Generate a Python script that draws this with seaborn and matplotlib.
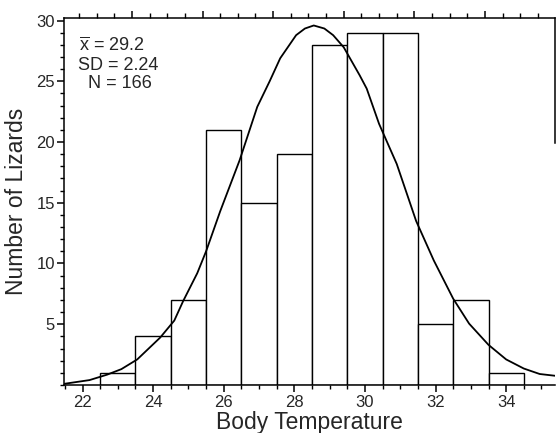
import numpy as np
import pandas as pd
import matplotlib
matplotlib.use("Agg")
import matplotlib.pyplot as plt
from matplotlib.ticker import FixedLocator, MultipleLocator
import seaborn as sns

# ---- data ----
bin_edges = [22.5, 23.5, 24.5, 25.5, 26.5, 27.5, 28.5, 29.5, 30.5, 31.5, 32.5, 33.5, 34.5]
bin_centers = [23, 24, 25, 26, 27, 28, 29, 30, 31, 32, 33, 34]
counts = [1, 4, 7, 21, 15, 19, 28, 29, 29, 5, 7, 1]

curve_x = [21.5, 22.2, 22.7, 23.1, 23.55, 24.2, 24.6, 24.85, 25.25, 25.5, 25.9, 26.45,
           26.95, 27.3, 27.6, 28.05, 28.3, 28.55, 28.85, 29.1, 29.4, 29.85, 30.05, 30.4,
           30.9, 31.45, 31.95, 32.5, 32.95, 33.5, 34.0, 34.5, 34.95, 35.4]
curve_y = [0.1, 0.4, 0.85, 1.3, 2.1, 3.9, 5.3, 6.9, 9.2, 11.0, 14.3, 18.5,
           22.9, 25.0, 26.9, 28.8, 29.35, 29.6, 29.35, 28.8, 27.8, 25.5, 24.4, 21.5,
           18.2, 13.5, 10.25, 7.1, 5.05, 3.3, 2.1, 1.35, 0.9, 0.75]

x_ticks = [22, 24, 26, 28, 30, 32, 34]
y_ticks = [5, 10, 15, 20, 25, 30]
stats_text = [r"$\overline{\mathrm{x}}$ = 29.2", "SD = 2.24", "N = 166"]

sns.set_style("ticks")
plt.rcParams["font.family"] = ["Liberation Sans", "DejaVu Sans"]
plt.rcParams["mathtext.fontset"] = "custom"
plt.rcParams["mathtext.rm"] = "Liberation Sans"
plt.rcParams["mathtext.it"] = "Liberation Sans"
plt.rcParams["xtick.minor.visible"] = True
plt.rcParams["ytick.minor.visible"] = True
plt.rcParams["xtick.minor.size"] = 3
plt.rcParams["ytick.minor.size"] = 3
plt.rcParams["xtick.minor.width"] = 1.0
plt.rcParams["ytick.minor.width"] = 1.0

df = pd.DataFrame({"temp": bin_centers, "n": counts})
cdf = pd.DataFrame({"x": curve_x, "y": curve_y})

fig = plt.figure(figsize=(5.56, 4.33), dpi=100)
ax = fig.add_axes([0.116, 0.111, 0.882, 0.847])

sns.histplot(data=df, x="temp", weights="n", bins=bin_edges, ax=ax,
             color="white", edgecolor="black", linewidth=1.0, alpha=1)
sns.lineplot(data=cdf, x="x", y="y", ax=ax, color="black", linewidth=1.3,
             sort=False, estimator=None)

ax.set_xlim(21.49, 35.38)
ax.set_ylim(0, 30.2)
ax.set_xticks(x_ticks)
ax.set_yticks(y_ticks)
ax.xaxis.set_minor_locator(MultipleLocator(0.5))
ax.yaxis.set_minor_locator(MultipleLocator(1))
ax.tick_params(axis="both", which="major", length=5, width=1.1, labelsize=12,
               direction="out", color="black", pad=2)
ax.tick_params(axis="both", which="minor", length=3, width=1.0, direction="out",
               color="black")

ax.set_xlabel("Body Temperature", fontsize=16.5, labelpad=1)
ax.set_ylabel("Number of Lizards", fontsize=16.5, labelpad=6)

for s in ["left", "bottom", "top", "right"]:
    ax.spines[s].set_visible(True)
    ax.spines[s].set_linewidth(1.1)
    ax.spines[s].set_color("black")
ax.spines["right"].set_bounds(19.9, 30.2)

# top axis ticks (offset by 0.6 in the original print)
shift = 0.6
top = ax.secondary_xaxis("top", functions=(lambda v: v + shift, lambda v: v - shift))
top.xaxis.set_major_locator(FixedLocator([24, 26, 28, 30, 32, 34]))
top.xaxis.set_minor_locator(FixedLocator([v for v in np.arange(22.5, 36.0, 0.5)
                                          if abs(v % 2) > 1e-6]))
top.tick_params(axis="x", which="major", length=5, width=1.1, labeltop=False,
                direction="out", color="black")
top.tick_params(axis="x", which="minor", length=3.5, width=1.0, direction="out",
                color="black", top=True)
top.spines["top"].set_visible(False)

text_x = [0.030, 0.027, 0.047]
text_y = [0.926, 0.872, 0.823]
for t, tx, ty in zip(stats_text, text_x, text_y):
    ax.text(tx, ty, t, transform=ax.transAxes, fontsize=13, ha="left", va="center")

fig.savefig("out.png", dpi=100)
